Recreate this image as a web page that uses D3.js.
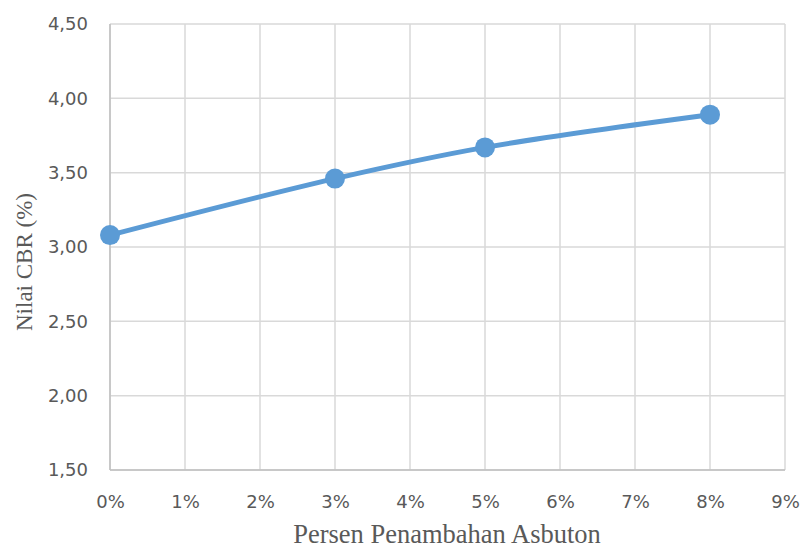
<!DOCTYPE html>
<html>
<head>
<meta charset="utf-8">
<script src="https://cdn.jsdelivr.net/npm/d3@7"></script>
<style>
  html, body { margin: 0; padding: 0; background: #fff; }
  svg { display: block; }
</style>
</head>
<body>
<svg id="chart" width="801" height="548"></svg>
<script>
// CBR value for each asbuton addition (percent)
const asbutonPercent = [0, 3, 5, 8];
const cbrValues = [3.08, 3.46, 3.67, 3.89];
const xTicks = [0, 1, 2, 3, 4, 5, 6, 7, 8, 9];
const yTicks = [1.5, 2.0, 2.5, 3.0, 3.5, 4.0, 4.5];
const xTitle = "Persen Penambahan Asbuton";
const yTitle = "Nilai CBR (%)";

const svg = d3.select("#chart");
const plot = { left: 110, right: 785, top: 24, bottom: 470 };

const x = d3.scaleLinear().domain([0, 9]).range([plot.left, plot.right]);
const y = d3.scaleLinear().domain([1.5, 4.5]).range([plot.bottom, plot.top]);

const gridColor = "#d9d9d9";
const textColor = "#595959";

// gridlines
svg.append("g").selectAll("line.v").data(xTicks).join("line")
  .attr("x1", d => x(d)).attr("x2", d => x(d))
  .attr("y1", plot.top).attr("y2", plot.bottom)
  .attr("stroke", gridColor).attr("stroke-width", 1.5);
svg.append("g").selectAll("line.h").data(yTicks).join("line")
  .attr("x1", plot.left).attr("x2", plot.right)
  .attr("y1", d => y(d)).attr("y2", d => y(d))
  .attr("stroke", gridColor).attr("stroke-width", 1.5);

// axes (labels only; lines come from the grid)
const fmtY = d => d3.format(".2f")(d).replace(".", ",");
const yAxis = svg.append("g")
  .attr("transform", `translate(${plot.left},0)`)
  .call(d3.axisLeft(y).tickValues(yTicks).tickFormat(fmtY).tickSize(0).tickPadding(22));
const xAxis = svg.append("g")
  .attr("transform", `translate(0,${plot.bottom})`)
  .call(d3.axisBottom(x).tickValues(xTicks).tickFormat(d => d + "%").tickSize(0).tickPadding(25));
[yAxis, xAxis].forEach(g => {
  g.select(".domain").remove();
  g.selectAll("text")
    .attr("fill", textColor)
    .style("font-family", "'DejaVu Sans', sans-serif")
    .style("font-size", "18px");
});
xAxis.selectAll("text").attr("dy", "0.71em");

// left and bottom axis lines a shade darker
svg.append("line").attr("x1", plot.left).attr("x2", plot.left)
  .attr("y1", plot.top).attr("y2", plot.bottom)
  .attr("stroke", "#bfbfbf").attr("stroke-width", 1.5);
svg.append("line").attr("x1", plot.left).attr("x2", plot.right)
  .attr("y1", plot.bottom).attr("y2", plot.bottom)
  .attr("stroke", "#bfbfbf").attr("stroke-width", 1.5);

// series line
const data = asbutonPercent.map((p, i) => ({ p, v: cbrValues[i] }));
const lineGen = d3.line().x(d => x(d.p)).y(d => y(d.v)).curve(d3.curveCatmullRom.alpha(0.5));
svg.append("path").datum(data)
  .attr("d", lineGen)
  .attr("fill", "none")
  .attr("stroke", "#5b9bd5")
  .attr("stroke-width", 5)
  .attr("stroke-linecap", "round");

svg.append("g").selectAll("circle").data(data).join("circle")
  .attr("cx", d => x(d.p)).attr("cy", d => y(d.v))
  .attr("r", 10)
  .attr("fill", "#5b9bd5");

// axis titles
svg.append("text")
  .attr("x", 447).attr("y", 543)
  .attr("text-anchor", "middle")
  .attr("fill", textColor)
  .style("font-family", "'Liberation Serif', 'Times New Roman', serif")
  .style("font-size", "26.5px")
  .text(xTitle);

svg.append("text")
  .attr("transform", "translate(32,262) rotate(-90)")
  .attr("text-anchor", "middle")
  .attr("fill", textColor)
  .style("font-family", "'Liberation Serif', 'Times New Roman', serif")
  .style("font-size", "23px")
  .text(yTitle);
</script>
</body>
</html>
